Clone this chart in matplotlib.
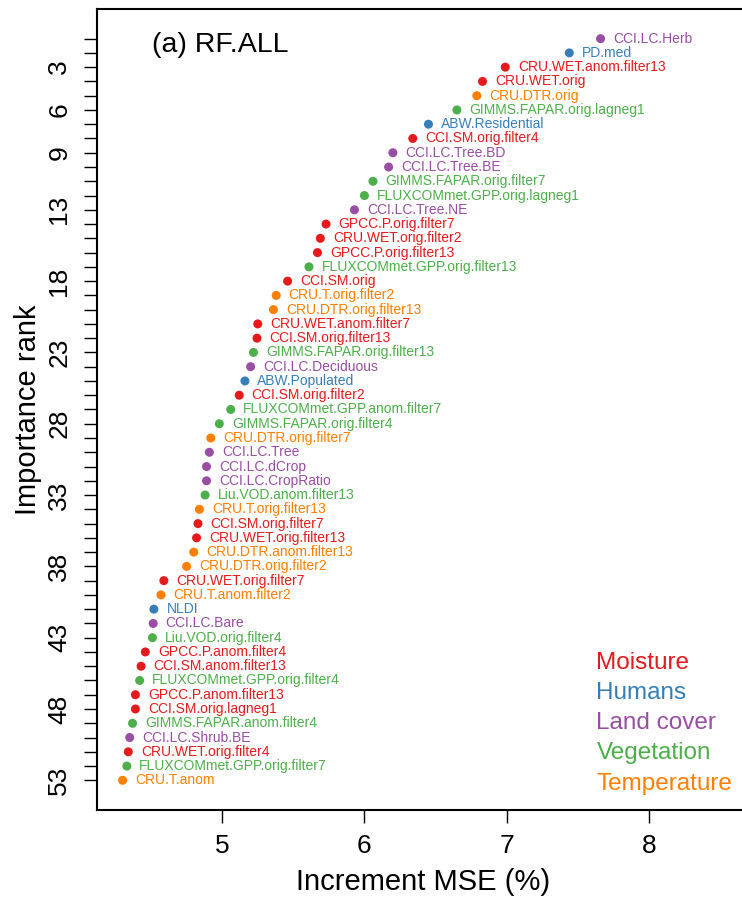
import matplotlib
matplotlib.use("Agg")
import matplotlib.pyplot as plt

plt.rcParams["font.family"] = ["Liberation Sans", "DejaVu Sans"]

# variable names, top rank first
variables = [
    "CCI.LC.Herb", "PD.med", "CRU.WET.anom.filter13", "CRU.WET.orig",
    "CRU.DTR.orig", "GIMMS.FAPAR.orig.lagneg1", "ABW.Residential",
    "CCI.SM.orig.filter4", "CCI.LC.Tree.BD", "CCI.LC.Tree.BE",
    "GIMMS.FAPAR.orig.filter7", "FLUXCOMmet.GPP.orig.lagneg1", "CCI.LC.Tree.NE",
    "GPCC.P.orig.filter7", "CRU.WET.orig.filter2", "GPCC.P.orig.filter13",
    "FLUXCOMmet.GPP.orig.filter13", "CCI.SM.orig", "CRU.T.orig.filter2",
    "CRU.DTR.orig.filter13", "CRU.WET.anom.filter7", "CCI.SM.orig.filter13",
    "GIMMS.FAPAR.orig.filter13", "CCI.LC.Deciduous", "ABW.Populated",
    "CCI.SM.orig.filter2", "FLUXCOMmet.GPP.anom.filter7", "GIMMS.FAPAR.orig.filter4",
    "CRU.DTR.orig.filter7", "CCI.LC.Tree", "CCI.LC.dCrop", "CCI.LC.CropRatio",
    "Liu.VOD.anom.filter13", "CRU.T.orig.filter13", "CCI.SM.orig.filter7",
    "CRU.WET.orig.filter13", "CRU.DTR.anom.filter13", "CRU.DTR.orig.filter2",
    "CRU.WET.orig.filter7", "CRU.T.anom.filter2", "NLDI", "CCI.LC.Bare",
    "Liu.VOD.orig.filter4", "GPCC.P.anom.filter4", "CCI.SM.anom.filter13",
    "FLUXCOMmet.GPP.orig.filter4", "GPCC.P.anom.filter13", "CCI.SM.orig.lagneg1",
    "GIMMS.FAPAR.anom.filter4", "CCI.LC.Shrub.BE", "CRU.WET.orig.filter4",
    "FLUXCOMmet.GPP.orig.filter7", "CRU.T.anom",
]

inc_mse = [
    7.66, 7.44, 6.99, 6.83, 6.79, 6.65, 6.45, 6.34, 6.20, 6.17,
    6.06, 6.00, 5.93, 5.73, 5.69, 5.67, 5.61, 5.46, 5.38, 5.36,
    5.25, 5.245, 5.22, 5.20, 5.16, 5.12, 5.06, 4.98, 4.92, 4.91,
    4.89, 4.89, 4.88, 4.84, 4.83, 4.82, 4.80, 4.75, 4.59, 4.57,
    4.52, 4.515, 4.51, 4.46, 4.43, 4.42, 4.39, 4.39, 4.37, 4.35,
    4.34, 4.33, 4.30,
]

groups = [
    "Land cover", "Humans", "Moisture", "Moisture", "Temperature", "Vegetation",
    "Humans", "Moisture", "Land cover", "Land cover", "Vegetation", "Vegetation",
    "Land cover", "Moisture", "Moisture", "Moisture", "Vegetation", "Moisture",
    "Temperature", "Temperature", "Moisture", "Moisture", "Vegetation",
    "Land cover", "Humans", "Moisture", "Vegetation", "Vegetation", "Temperature",
    "Land cover", "Land cover", "Land cover", "Vegetation", "Temperature",
    "Moisture", "Moisture", "Temperature", "Temperature", "Moisture",
    "Temperature", "Humans", "Land cover", "Vegetation", "Moisture", "Moisture",
    "Vegetation", "Moisture", "Moisture", "Vegetation", "Land cover", "Moisture",
    "Vegetation", "Temperature",
]

legend_names = ["Moisture", "Humans", "Land cover", "Vegetation", "Temperature"]
group_colors = {
    "Moisture": "#E41A1C",
    "Humans": "#377EB8",
    "Land cover": "#984EA3",
    "Vegetation": "#4DAF4A",
    "Temperature": "#FF7F00",
}

ranks = list(range(1, len(variables) + 1))
colors = [group_colors[g] for g in groups]

fig = plt.figure(figsize=(7.42, 8.98), dpi=100)
ax = fig.add_axes([0.1307, 0.098, 0.88, 0.892])

ax.scatter(inc_mse, ranks, s=42, c=colors, linewidths=0, zorder=3)
for x, r, name, col in zip(inc_mse, ranks, variables, colors):
    ax.annotate(name, (x, r), xytext=(9, 0), textcoords="offset points",
                ha="left", va="center", fontsize=10, color=col)

ax.set_xlim(4.12, 8.71)
ax.set_ylim(55.08, -1.08)

ax.set_xticks([5, 6, 7, 8])
ax.set_yticks(ranks)
ax.set_yticklabels([str(r) if r in (3, 6, 9, 13, 18, 23, 28, 33, 38, 43, 48, 53) else ""
                    for r in ranks], rotation=90, va="center")
ax.tick_params(axis="both", direction="out", length=9.5, width=1.0, labelsize=19,
               color="black")
ax.tick_params(axis="y", pad=9)
ax.tick_params(axis="x", pad=8)

for side in ["left", "bottom", "top"]:
    ax.spines[side].set_linewidth(1.5)
ax.spines["right"].set_visible(False)

ax.set_xlabel("Increment MSE (%)", fontsize=21, labelpad=7)
ax.set_ylabel("Importance rank", fontsize=21, labelpad=4)

ax.text(0.085, 0.955, "(a) RF.ALL", transform=ax.transAxes, fontsize=20.5,
        ha="left", va="center")

for i, name in enumerate(legend_names):
    ax.text(0.765, 0.184 - i * 0.0378, name, transform=ax.transAxes, fontsize=17.5,
            color=group_colors[name], ha="left", va="center")

fig.savefig("out.png", dpi=100)
